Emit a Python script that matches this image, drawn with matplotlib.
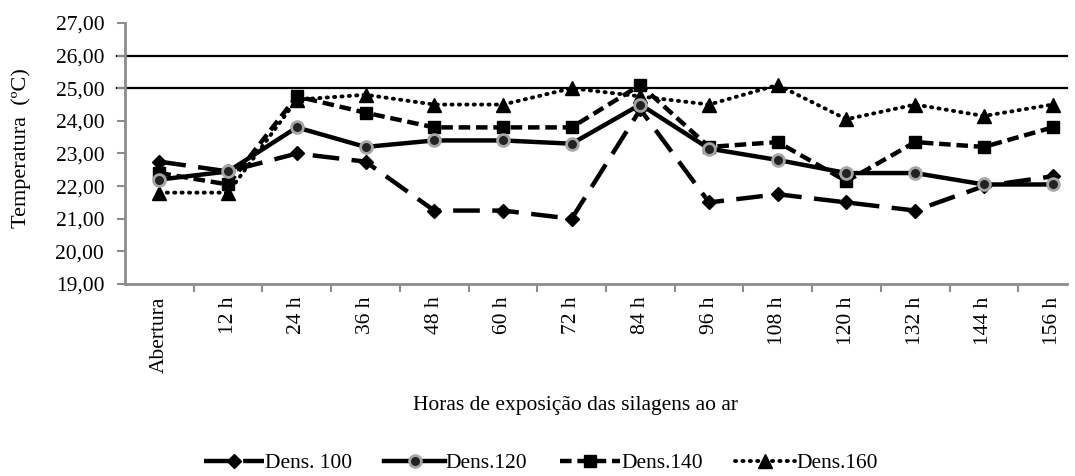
import matplotlib
matplotlib.use("Agg")
import matplotlib.pyplot as plt
import numpy as np

categories = ["Abertura", "12 h", "24 h", "36 h", "48 h", "60 h", "72 h",
              "84 h", "96 h", "108 h", "120 h", "132 h", "144 h", "156 h"]
dens100 = [22.75, 22.45, 23.0, 22.75, 21.25, 21.25, 21.0, 24.35, 21.5, 21.75, 21.5, 21.25, 22.0, 22.3]
dens120 = [22.2, 22.45, 23.8, 23.2, 23.4, 23.4, 23.3, 24.5, 23.15, 22.8, 22.4, 22.4, 22.05, 22.05]
dens140 = [22.4, 22.05, 24.75, 24.25, 23.8, 23.8, 23.8, 25.1, 23.2, 23.35, 22.15, 23.35, 23.2, 23.8]
dens160 = [21.8, 21.8, 24.65, 24.8, 24.5, 24.5, 25.0, 24.75, 24.5, 25.1, 24.05, 24.5, 24.15, 24.5]
ref_lines = [25, 26]
yticks = [19, 20, 21, 22, 23, 24, 25, 26, 27]

plt.rcParams['font.family'] = ['Liberation Serif', 'DejaVu Serif']
FS = 15.5

fig = plt.figure(figsize=(10.75, 4.76), dpi=100)
ax = fig.add_axes([0.1163, 0.4034, 0.8763, 0.5483])
x = np.arange(len(categories))

gray = '#8c8c8c'
for y in ref_lines:
    ax.axhline(y, xmin=-0.009, xmax=1, color='black', lw=1.6, clip_on=False, zorder=1)

ax.plot(x, dens100, color='black', lw=3.2, linestyle=(0, (6, 2.8)),
        marker='D', ms=7.5, mfc='black', mec='black', label='Dens. 100', zorder=3)
ax.plot(x, dens120, color='black', lw=3.2, linestyle='-',
        marker='o', ms=8.5, mfc='#222222', mec='#a6a6a6', mew=2, label='Dens.120', zorder=4)
ax.plot(x, dens140, color='black', lw=3.2, linestyle=(0, (2.6, 1.3)),
        marker='s', ms=9, mfc='black', mec='black', label='Dens.140', zorder=3)
ax.plot(x, dens160, color='black', lw=2.8, linestyle=(0, (0.3, 1.6)),
        dash_capstyle='round', marker='^', ms=9.5, mfc='black', mec='black', label='Dens.160', zorder=3)

ax.set_xlim(-0.5, 13.21)
ax.set_ylim(19, 27)
ax.set_yticks(yticks)
ax.set_yticklabels([f"{v:.2f}".replace('.', ',') for v in yticks], fontsize=FS)
ax.set_xticks(x)
ax.set_xticklabels(categories, rotation=90, fontsize=FS)
ax.set_xticks(np.arange(-0.5, 13.3, 1)[1:], minor=True)
ax.tick_params(axis='x', which='major', length=0, pad=9)
ax.tick_params(axis='x', which='minor', length=6, width=1.5, color=gray, direction='out')
ax.tick_params(axis='y', length=6, width=1.5, color=gray, direction='out', pad=9)

for s in ['top', 'right']:
    ax.spines[s].set_visible(False)
for s in ['left', 'bottom']:
    ax.spines[s].set_color(gray)
    ax.spines[s].set_linewidth(2)

ax.set_ylabel('Temperatura  (ºC)', fontsize=16)
ax.yaxis.set_label_coords(-0.1, 0.52)
fig.text(0.535, 0.149, 'Horas de exposição das silagens ao ar', ha='center', va='center', fontsize=FS)

fig.legend(loc='center', bbox_to_anchor=(0.503, 0.027), ncol=4, frameon=False,
           fontsize=FS, handlelength=2.8, handletextpad=0.05, columnspacing=1.5)

fig.savefig('out.png', dpi=100)
